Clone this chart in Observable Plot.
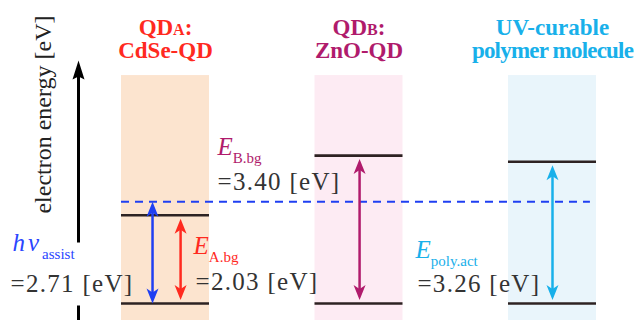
<!DOCTYPE html>
<html><head><meta charset="utf-8">
<script src="https://cdn.jsdelivr.net/npm/d3@7"></script>
<script src="https://cdn.jsdelivr.net/npm/@observablehq/plot@0.6"></script>
<style>html,body{margin:0;padding:0;background:#fff;}</style>
</head><body><div id="chart"></div>
<script>
// ---------- data ----------
const materials   = ["CdSe-QD", "ZnO-QD", "UV-curable polymer molecule"];
const titleLine1  = ["QD~{A}:", "QD~{B}:", "UV-curable"];
const titleLine2  = ["CdSe-QD", "ZnO-QD", "polymer molecule"];
const columnPos   = [0, 1, 2];
const lowerLevel  = [0, 0, 0];            // eV (ground level)
const upperLevel  = [2.03, 3.40, 3.26];   // eV (band gap / activation)
const bandLabels  = ["*E*_{A.bg}", "*E*_{B.bg}", "*E*_{poly.act}"];
const bandValues  = ["=2.03 [eV]", "=3.40 [eV]", "=3.26 [eV]"];
const assistLabel = "*hν*_{assist}";
const assistValue = "=2.71 [eV]";
const assistLevel = 2.34;                 // drawn height of the dashed hν line (schematic)
const axisTitle   = "electron energy [eV]";
const colors      = ["#ff2a1f", "#b01b6c", "#18b0ea"];
const boxFill     = ["#fce4cf", "#fdebf3", "#e9f5fb"];
const assistColor = "#1f3ff2";
const assistText  = "#2a46ff";

// ---------- layout (data units) ----------
const xDomain = [-0.8527, 2.4238], yDomain = [-0.391, 6.966];
const boxHalf = 0.2274, boxTop = 5.24;
const titleY = [6.184, 5.655];
const arrowX = [0.078, 1.003, 2.0], assistArrowX = -0.067;
const bandLabelX = [0.145, 0.269, 1.292], bandLabelY = [1.149, 3.425, 1.057];
const bandValueX = [0.155, 0.269, 1.302], bandValueY = [0.299, 2.598, 0.253];
const assistLabelPos = [-0.791, 1.218], assistValuePos = [-0.801, 0.253];
const assistDashEnd = 2.196;
const axisX = -0.4496, axisTop = 5.586, axisBreak = [1.402, -0.046];
const axisTitlePos = [-0.630, 4.345];
const serif = "'Liberation Serif', 'Times New Roman', serif";

const cols = columnPos.map((x, i) => ({x, x1: x - boxHalf, x2: x + boxHalf, lo: lowerLevel[i], hi: upperLevel[i], fill: boxFill[i], color: colors[i], l1: titleLine1[i], l2: titleLine2[i], y1t: titleY[0], y2t: titleY[1], name: materials[i]}));
const inset = 0.08;
const arrows = cols.map((d, i) => ({x: arrowX[i], y1: d.lo + inset, y2: d.hi - inset, color: d.color}));
arrows.push({x: assistArrowX, y1: 0, y2: assistLevel, color: assistColor});
const shaftCut = 0.12;

const headUp = (L, W, N) => ({draw(c) { c.moveTo(0, 0); c.lineTo(W / 2, L); c.lineTo(0, L - N); c.lineTo(-W / 2, L); c.closePath(); }});
const headDown = (L, W, N) => ({draw(c) { c.moveTo(0, 0); c.lineTo(W / 2, -L); c.lineTo(0, -(L - N)); c.lineTo(-W / 2, -L); c.closePath(); }});

const labels = bandLabels.map((t, i) => ({x: bandLabelX[i], y: bandLabelY[i], text: t, color: colors[i], dy: 8, ls: 0}));
labels.push({x: assistLabelPos[0], y: assistLabelPos[1], text: assistLabel, color: assistText, dy: 8, ls: 3});
const values = bandValues.map((t, i) => ({x: bandValueX[i], y: bandValueY[i], text: t}));
values.push({x: assistValuePos[0], y: assistValuePos[1], text: assistValue});

const axisSegs = [{y1: axisTop - 0.3, y2: axisBreak[0]}, {y1: axisBreak[1], y2: yDomain[0]}];

const svg = Plot.plot({
  width: 634, height: 320, margin: 0,
  x: {domain: xDomain, axis: null},
  y: {domain: yDomain, axis: null},
  color: {type: "identity"},
  style: {background: "#fff"},
  marks: [
    Plot.rect(cols, {x1: "x1", x2: "x2", y1: () => yDomain[0], y2: () => boxTop, fill: "fill"}),
    Plot.ruleY(cols, {y: "lo", x1: "x1", x2: "x2", stroke: "#2d2222", strokeWidth: 2.6}),
    Plot.ruleY(cols, {y: "hi", x1: "x1", x2: "x2", stroke: "#2d2222", strokeWidth: 2.6}),
    Plot.ruleY([assistLevel], {y: d => d, x1: () => cols[0].x1, x2: () => assistDashEnd, stroke: assistColor, strokeWidth: 2, strokeDasharray: "8,6"}),
    Plot.link(arrows, {x1: "x", x2: "x", y1: d => d.y1 + shaftCut, y2: d => d.y2 - shaftCut, stroke: "color", strokeWidth: 2.5}),
    Plot.dot(arrows, {x: "x", y: "y2", symbol: headUp(15, 12, 4), r: 6, fill: "color", stroke: "none"}),
    Plot.dot(arrows, {x: "x", y: "y1", symbol: headDown(15, 12, 4), r: 6, fill: "color", stroke: "none"}),
    // vertical energy axis arrow
    Plot.link(axisSegs, {x1: () => axisX, x2: () => axisX, y1: "y1", y2: "y2", stroke: "#000", strokeWidth: 3}),
    Plot.dot([axisTop], {x: () => axisX, y: d => d, symbol: headUp(19, 12, 3), r: 6, fill: "#000", stroke: "none"}),
    Plot.text([axisTitle], {x: () => axisTitlePos[0], y: () => axisTitlePos[1], text: d => d, rotate: -90, fontSize: 24, fontFamily: serif, fill: "#222", textAnchor: "middle", lineAnchor: "middle"}),
    // titles
    Plot.text(cols, {x: "x", y: "y1t", text: "l1", fill: "color", fontWeight: "bold", fontSize: 23, fontFamily: serif, lineAnchor: "bottom"}),
    Plot.text(cols, {x: "x", y: "y2t", text: "l2", fill: "color", fontWeight: "bold", fontSize: 23, fontFamily: serif, lineAnchor: "bottom"}),
    // energy labels
    Plot.text(labels, {x: "x", y: "y", text: "text", fill: "color", fontSize: 25, fontFamily: serif, textAnchor: "start", lineAnchor: "bottom"}),
    Plot.text(values, {x: "x", y: "y", text: "text", fill: "#333", fontSize: 25, fontFamily: serif, textAnchor: "start", lineAnchor: "bottom"})
  ]
});

// rich text: *italic*, _{subscript}, ~{small caps}
function richify(root) {
  const NS = "http://www.w3.org/2000/svg";
  const info = {}; labels.forEach(l => info[l.text] = l);
  root.querySelectorAll("text").forEach(t => {
    const s = t.textContent;
    if (s === "polymer molecule") t.style.letterSpacing = "-0.8px";
    if (/^=.*\[eV\]$/.test(s)) t.style.letterSpacing = "1.3px";
    if (!/[*~]|_\{/.test(s)) return;
    while (t.firstChild) t.removeChild(t.firstChild);
    let i = 0, italic = false, shift = 0, buf = "";
    const dyv = info[s] ? info[s].dy : 8;
    const ls = info[s] ? info[s].ls : 0;
    const flush = () => {
      if (!buf) return;
      const ts = document.createElementNS(NS, "tspan");
      ts.textContent = buf;
      if (italic) { ts.setAttribute("font-style", "italic"); if (ls) ts.style.letterSpacing = ls + "px"; }
      if (shift) { ts.setAttribute("dy", -shift); shift = 0; }
      t.appendChild(ts); buf = "";
    };
    while (i < s.length) {
      if (s[i] === "*") { flush(); italic = !italic; i++; continue; }
      if ((s[i] === "_" || s[i] === "~") && s[i + 1] === "{") {
        flush();
        const j = s.indexOf("}", i);
        const ts = document.createElementNS(NS, "tspan");
        ts.textContent = s.slice(i + 2, j);
        if (s[i] === "_") { ts.setAttribute("font-size", 15); ts.setAttribute("dy", dyv); shift = dyv; }
        else { ts.setAttribute("font-size", 16); }
        t.appendChild(ts);
        i = j + 1; continue;
      }
      buf += s[i]; i++;
    }
    flush();
  });
}
richify(svg);
document.getElementById("chart").append(svg);
</script>
</body></html>
